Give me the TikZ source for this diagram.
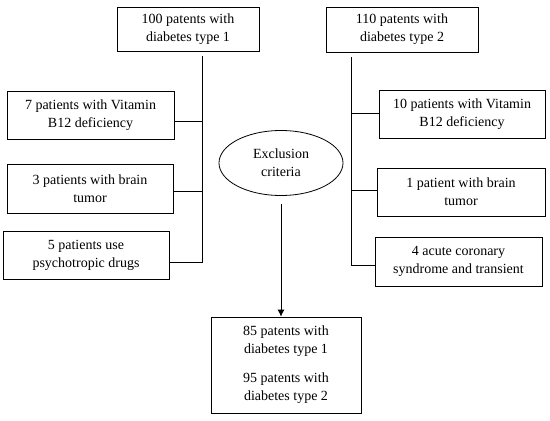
\documentclass[tikz,border=0pt]{standalone}
\usepackage{fontspec}
\setmainfont{Liberation Serif}
\usetikzlibrary{shapes.geometric,arrows,arrows.meta,positioning,calc}

\begin{document}
\begin{tikzpicture}[
    x=1pt, y=-1pt,
    block/.style={rectangle, draw, line width=0.8pt, inner sep=2pt, align=center,
        font=\fontsize{14}{18}\selectfont},
    oval/.style={ellipse, draw, line width=0.8pt, minimum width=124pt, minimum height=65pt,
        inner sep=1pt, align=center, font=\fontsize{14}{18}\selectfont},
    line/.style={line width=0.8pt},
    arrow/.style={-{Latex[length=7pt,width=7pt]}, line width=0.8pt}
]
\useasboundingbox (0,0) rectangle (550,421);

% Study groups
\node[block, minimum width=142pt, minimum height=44pt] (type1) at (188,29) {100 patents with\\diabetes type 1};
\node[block, minimum width=152pt, minimum height=45pt] (type2) at (402,29.5) {110 patents with\\diabetes type 2};

% Excluded from type 1
\node[block, minimum width=167pt, minimum height=48pt] (vitA) at (90.5,115) {7 patients with Vitamin\\B12 deficiency};
\node[block, minimum width=166pt, minimum height=49pt] (tumA) at (90,188.5) {3 patients with brain\\tumor};
\node[block, minimum width=166pt, minimum height=48pt] (drugA) at (86,255) {5 patients use\\psychotropic drugs};

% Excluded from type 2
\node[block, minimum width=166pt, minimum height=48pt] (vitB) at (462,114) {10 patients with Vitamin\\B12 deficiency};
\node[block, minimum width=168pt, minimum height=48pt] (tumB) at (461,192) {1 patient with brain\\tumor};
\node[block, minimum width=167pt, minimum height=49pt] (acsB) at (458.5,261.5) {4 acute coronary\\syndrome and transient};

% Exclusion and result
\node[oval] (excl) at (281,163) {Exclusion\\criteria};
\node[block, minimum width=150pt, minimum height=96pt] (result) at (286,365)
    {85 patents with\\diabetes type 1\\[11pt]95 patents with\\diabetes type 2};

% Trunks
\coordinate (trunkA) at (202,56);
\coordinate (trunkB) at (351,57);
\coordinate (arrtop) at (281,204);

\draw[line] (trunkA) |- ([yshift=-7pt]drugA.east);
\draw[line] ([yshift=-6pt]vitA.east) -- ([yshift=-6pt]vitA.east -| trunkA);
\draw[line] ([yshift=-2.5pt]tumA.east) -- ([yshift=-2.5pt]tumA.east -| trunkA);

\draw[line] (trunkB) |- ([yshift=-3.5pt]acsB.west);
\draw[line] ([yshift=1pt]vitB.west) -- ([yshift=1pt]vitB.west -| trunkB);
\draw[line] ([yshift=2pt]tumB.west) -- ([yshift=2pt]tumB.west -| trunkB);

\draw[arrow] (arrtop) -- (arrtop |- result.north);

\end{tikzpicture}
\end{document}
